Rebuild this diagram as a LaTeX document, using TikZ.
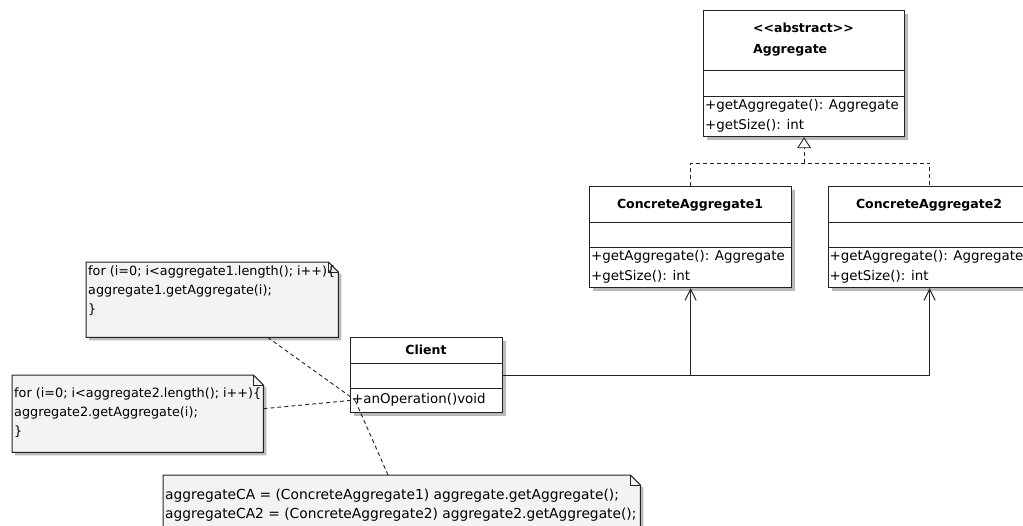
\documentclass[tikz,border=0pt]{standalone}
\usepackage{fontspec}
\setmainfont{DejaVu Sans}
\usetikzlibrary{shadows}
\usetikzlibrary{positioning}
\usetikzlibrary{arrows.meta,calc}

\definecolor{notegray}{RGB}{243,243,243}
\definecolor{umlline}{RGB}{35,35,35}
\definecolor{shadowgray}{RGB}{185,185,185}

\tikzset{
  umltext/.style={font=\fontsize{13.4}{20}\selectfont, inner sep=0pt},
  notetext/.style={font=\fontsize{12.8}{19}\selectfont, inner sep=0pt, align=left, anchor=north west},
  umlname/.style={font=\fontsize{12.5}{21}\selectfont\bfseries, inner sep=0pt},
  classbox/.style={draw=umlline, line width=1.2pt, fill=white, anchor=north west, inner sep=0pt,
    drop shadow={shadow xshift=3pt, shadow yshift=-3pt, fill=shadowgray, opacity=1}},
  classline/.style={draw=umlline, line width=1pt},
  notespot/.style={anchor=north west, inner sep=0pt},
  notebox/.style={draw=umlline, line width=1pt, fill=notegray,
    drop shadow={shadow xshift=3pt, shadow yshift=-3pt, fill=shadowgray, opacity=1}},
  noteline/.style={draw=umlline, line width=0.8pt},
  notelink/.style={draw=umlline, line width=0.9pt, dash pattern=on 4pt off 3pt},
  realize/.style={draw=umlline, line width=0.9pt, dash pattern=on 4pt off 3pt},
  assoc/.style={draw=umlline, line width=1pt, -{Straight Barb[length=11pt, width=11pt]}}
}

\begin{document}
\begin{tikzpicture}[x=1pt,y=-1pt]
  \useasboundingbox (0,0) rectangle (1023,525);
  \clip (0,0) rectangle (1023,525);

  \def\fold{10pt};

  %notes: name/x/y/width/height
  \foreach \name/\x/\y/\w/\h in {n1/86/262/252/75, n2/12/375/251/77, n3/163/475/477/60}{
    \node[notespot, minimum width=\w pt, minimum height=\h pt] (\name) at (\x,\y) {};
    \draw[notebox] (\name.north west) -- ([xshift=-\fold]\name.north east) -- ([yshift=-\fold]\name.north east)
      -- (\name.south east) -- (\name.south west) -- cycle;
    \draw[noteline] ([xshift=-\fold]\name.north east) |- ([yshift=-\fold]\name.north east);
  }

  \node[notetext] (n1text) at (88,266) {for (i=0; i<aggregate1.length(); i++)\{\\aggregate1.getAggregate(i);\\\}};
  \node[notetext] (n2text) at (14,388) {for (i=0; i<aggregate2.length(); i++)\{\\aggregate2.getAggregate(i);\\\}};
  \node[notetext, font=\fontsize{13.8}{18.5}\selectfont] (n3text) at (165,489) {aggregateCA = (ConcreteAggregate1) aggregate.getAggregate();\\aggregateCA2 = (ConcreteAggregate2) aggregate2.getAggregate();};

  %classes: name/x/y/width/height/first rule/second rule
  \foreach \name/\x/\y/\w/\h/\da/\db in {agg/703/10/201/126/60/86, ca1/589/186/202/101/36/61, ca2/828/186/202/101/36/61, client/350/337/152/75/26/51}{
    \node[classbox, minimum width=\w pt, minimum height=\h pt] (\name) at (\x,\y) {};
    \draw[classline] (\x,\y+\da) -- (\x+\w,\y+\da);
    \draw[classline] (\x,\y+\db) -- (\x+\w,\y+\db);
  }

  \node[umlname, align=left] (aggname) at (803.5,40) {<\kern0pt<abstract>\kern0pt>\\Aggregate};
  \node[umlname] (ca1name) at (690,205) {ConcreteAggregate1};
  \node[umlname] (ca2name) at (929,205) {ConcreteAggregate2};
  \node[umlname] (clientname) at (426,350) {Client};

  \node[umltext, align=left, anchor=west] (aggops) at (705,116) {+getAggregate(): Aggregate\\+getSize(): int};
  \node[umltext, align=left, anchor=west] (ca1ops) at (591,267) {+getAggregate(): Aggregate\\+getSize(): int};
  \node[umltext, align=left, anchor=west] (ca2ops) at (829.5,267) {+getAggregate(): Aggregate\\+getSize(): int};
  \node[umltext, anchor=west] (clientops) at (352,400) {+anOperation()void};

  %realization
  \coordinate (joint) at ($(agg.south)+(0,26)$);
  \draw[realize] (ca1.north) |- (joint) -| (ca2.north);
  \draw[realize, -{Triangle[open, length=11pt, width=14pt, fill=white]}] (joint) -- (agg.south);

  %association
  \draw[assoc] (client.east) -| (ca2.south);
  \draw[assoc] (ca1.south |- client.east) -- (ca1.south);

  %note links
  \coordinate (op) at ([xshift=3pt]clientops.west);
  \draw[notelink] ($(n1.south west)!0.72!(n1.south east)$) -- (op);
  \draw[notelink] ([yshift=5pt]n2.east) -- (op);
  \draw[notelink] ($(n3.north west)+(225,0)$) -- (op);
\end{tikzpicture}
\end{document}
